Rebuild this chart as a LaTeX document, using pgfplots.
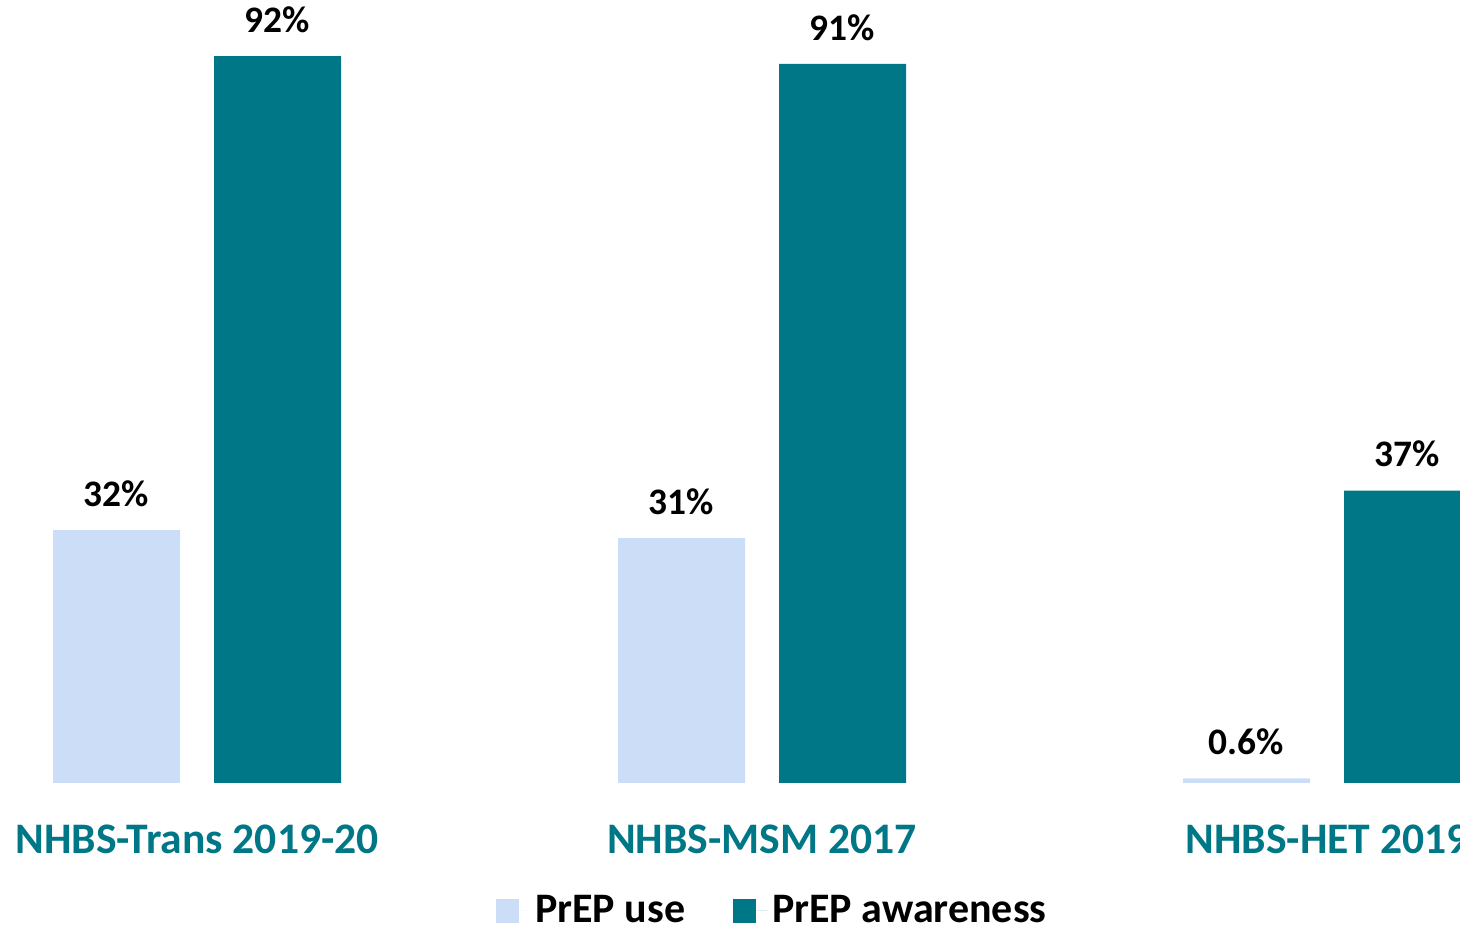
\documentclass[border=0pt]{standalone}
\usepackage{pgfplots}
\pgfplotsset{compat=1.18}
\usepackage{fontspec}
\setmainfont{Carlito}
\definecolor{lightblue}{RGB}{204,221,247}
\definecolor{teal}{RGB}{0,119,134}
\begin{document}
\begin{tikzpicture}
\useasboundingbox (0,0) rectangle (730pt,465pt);
\clip (0,0) rectangle (730pt,465pt);
\begin{axis}[
  at={(0pt,73.5pt)}, anchor=south west,
  scale only axis, width=730pt, height=391.5pt,
  xmin=-0.3487, xmax=2.2354, ymin=0, ymax=99.1,
  enlargelimits=false,
  axis lines*=left, axis line style={draw=none},
  ytick=\empty,
  xtick={0,1,2},
  xticklabels={NHBS-Trans 2019-20, NHBS-MSM 2017, NHBS-HET 2019},
  major tick length=0pt,
  xticklabel style={anchor=north, inner sep=0pt, yshift=-21pt, text=teal, font=\fontsize{21.8}{25}\selectfont\bfseries},
  ybar=17pt, bar width=63.5pt,
  nodes near coords={\pgfmathprintnumber[assume math mode=true]{\pgfplotspointmeta}\%},
  every node near coord/.append style={anchor=south, inner sep=0pt, yshift=11.5pt, text=black, font=\fontsize{18.7}{21}\selectfont\bfseries},
  legend style={at={(0.5297,-0.163)}, anchor=center, draw=none, fill=none, legend columns=2,
    font=\fontsize{21}{24}\selectfont\bfseries, inner sep=0pt,
    /tikz/every even column/.append style={column sep=22pt}},
  legend cell align=left,
  legend image code/.code={\fill[#1] (0pt,-6pt) rectangle (11.5pt,6pt); \path (0pt,0pt) -- (17.5pt,0pt);},
]
\addplot[fill=lightblue, draw=none] coordinates {(0,32) (1,31) (2,0.6)};
\addplot[fill=teal, draw=none] coordinates {(0,92) (1,91) (2,37)};
\legend{PrEP use, PrEP awareness}
\end{axis}
\end{tikzpicture}
\end{document}
